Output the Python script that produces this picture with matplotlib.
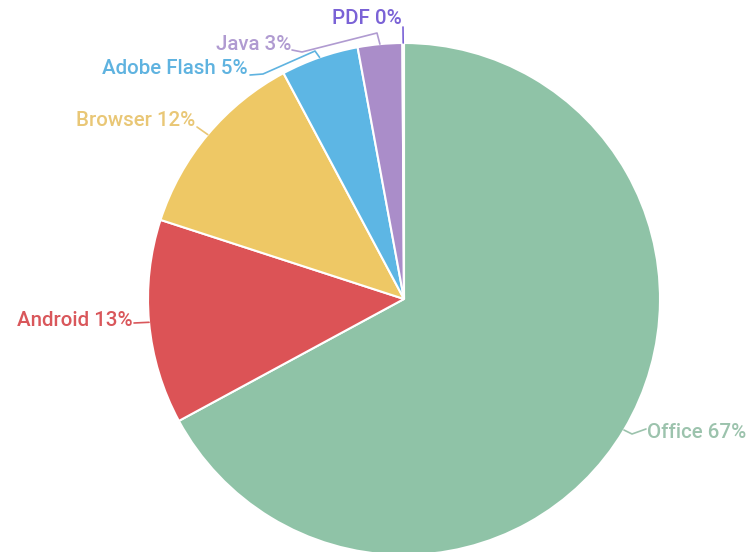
import numpy as np
import matplotlib
matplotlib.use("Agg")
import matplotlib.pyplot as plt

categories = ["Office", "Android", "Browser", "Adobe Flash", "Java", "PDF"]
values = [67.1, 12.9, 12.2, 4.9, 2.8, 0.1]
pct_labels = ["67%", "13%", "12%", "5%", "3%", "0%"]
slice_colors = ["#8fc3a7", "#dc5356", "#eec865", "#5db6e4", "#aa8dc9", "#7a62d6"]
label_colors = ["#9cc3ad", "#d9575b", "#e9c776", "#5fb3e0", "#b09bd1", "#7a62d6"]

# layout (pixel coordinates, y downward)
CX, CY, R = 404, 299, 256
text_pos = {
    "Office": (647, 432, "left"),
    "Android": (133, 320, "right"),
    "Browser": (195, 120, "right"),
    "Adobe Flash": (248, 69, "right"),
    "Java": (291, 44, "right"),
    "PDF": (402, 18, "right"),
}
# intermediate connector points from slice edge towards label
knees = {
    "Office": [(632, 434), (646, 429)],
    "Android": [(134, 323)],
    "Browser": [(197, 127)],
    "Adobe Flash": [(315, 51), (263, 74), (250, 75)],
    "Java": [(377, 33), (302, 52), (292, 50)],
    "PDF": [(403, 27)],
}

fig = plt.figure(figsize=(7.48, 5.52), dpi=100)
ax = fig.add_axes([0, 0, 1, 1])

wedges, _ = ax.pie(values, colors=slice_colors, startangle=-90, counterclock=True,
                   center=(CX, CY), radius=R, frame=True,
                   wedgeprops=dict(edgecolor="white", linewidth=1.5))
ax.set_xlim(0, 748)
ax.set_ylim(552, 0)
ax.set_aspect("equal")
ax.axis("off")

for w, cat, pct, lc in zip(wedges, categories, pct_labels, label_colors):
    mid = np.deg2rad((w.theta1 + w.theta2) / 2)
    ex, ey = CX + R * np.cos(mid), CY + R * np.sin(mid)
    pts = [(ex, ey)] + knees[cat]
    xs, ys = zip(*pts)
    ax.plot(xs, ys, color=lc, lw=1.2, solid_capstyle="round", clip_on=False)
    tx, ty, ha = text_pos[cat]
    ax.text(tx, ty, f"{cat} {pct}", color=lc, fontsize=14.8, ha=ha, va="center",
            family="Roboto", fontweight="medium")

fig.savefig("out.png", dpi=100)
